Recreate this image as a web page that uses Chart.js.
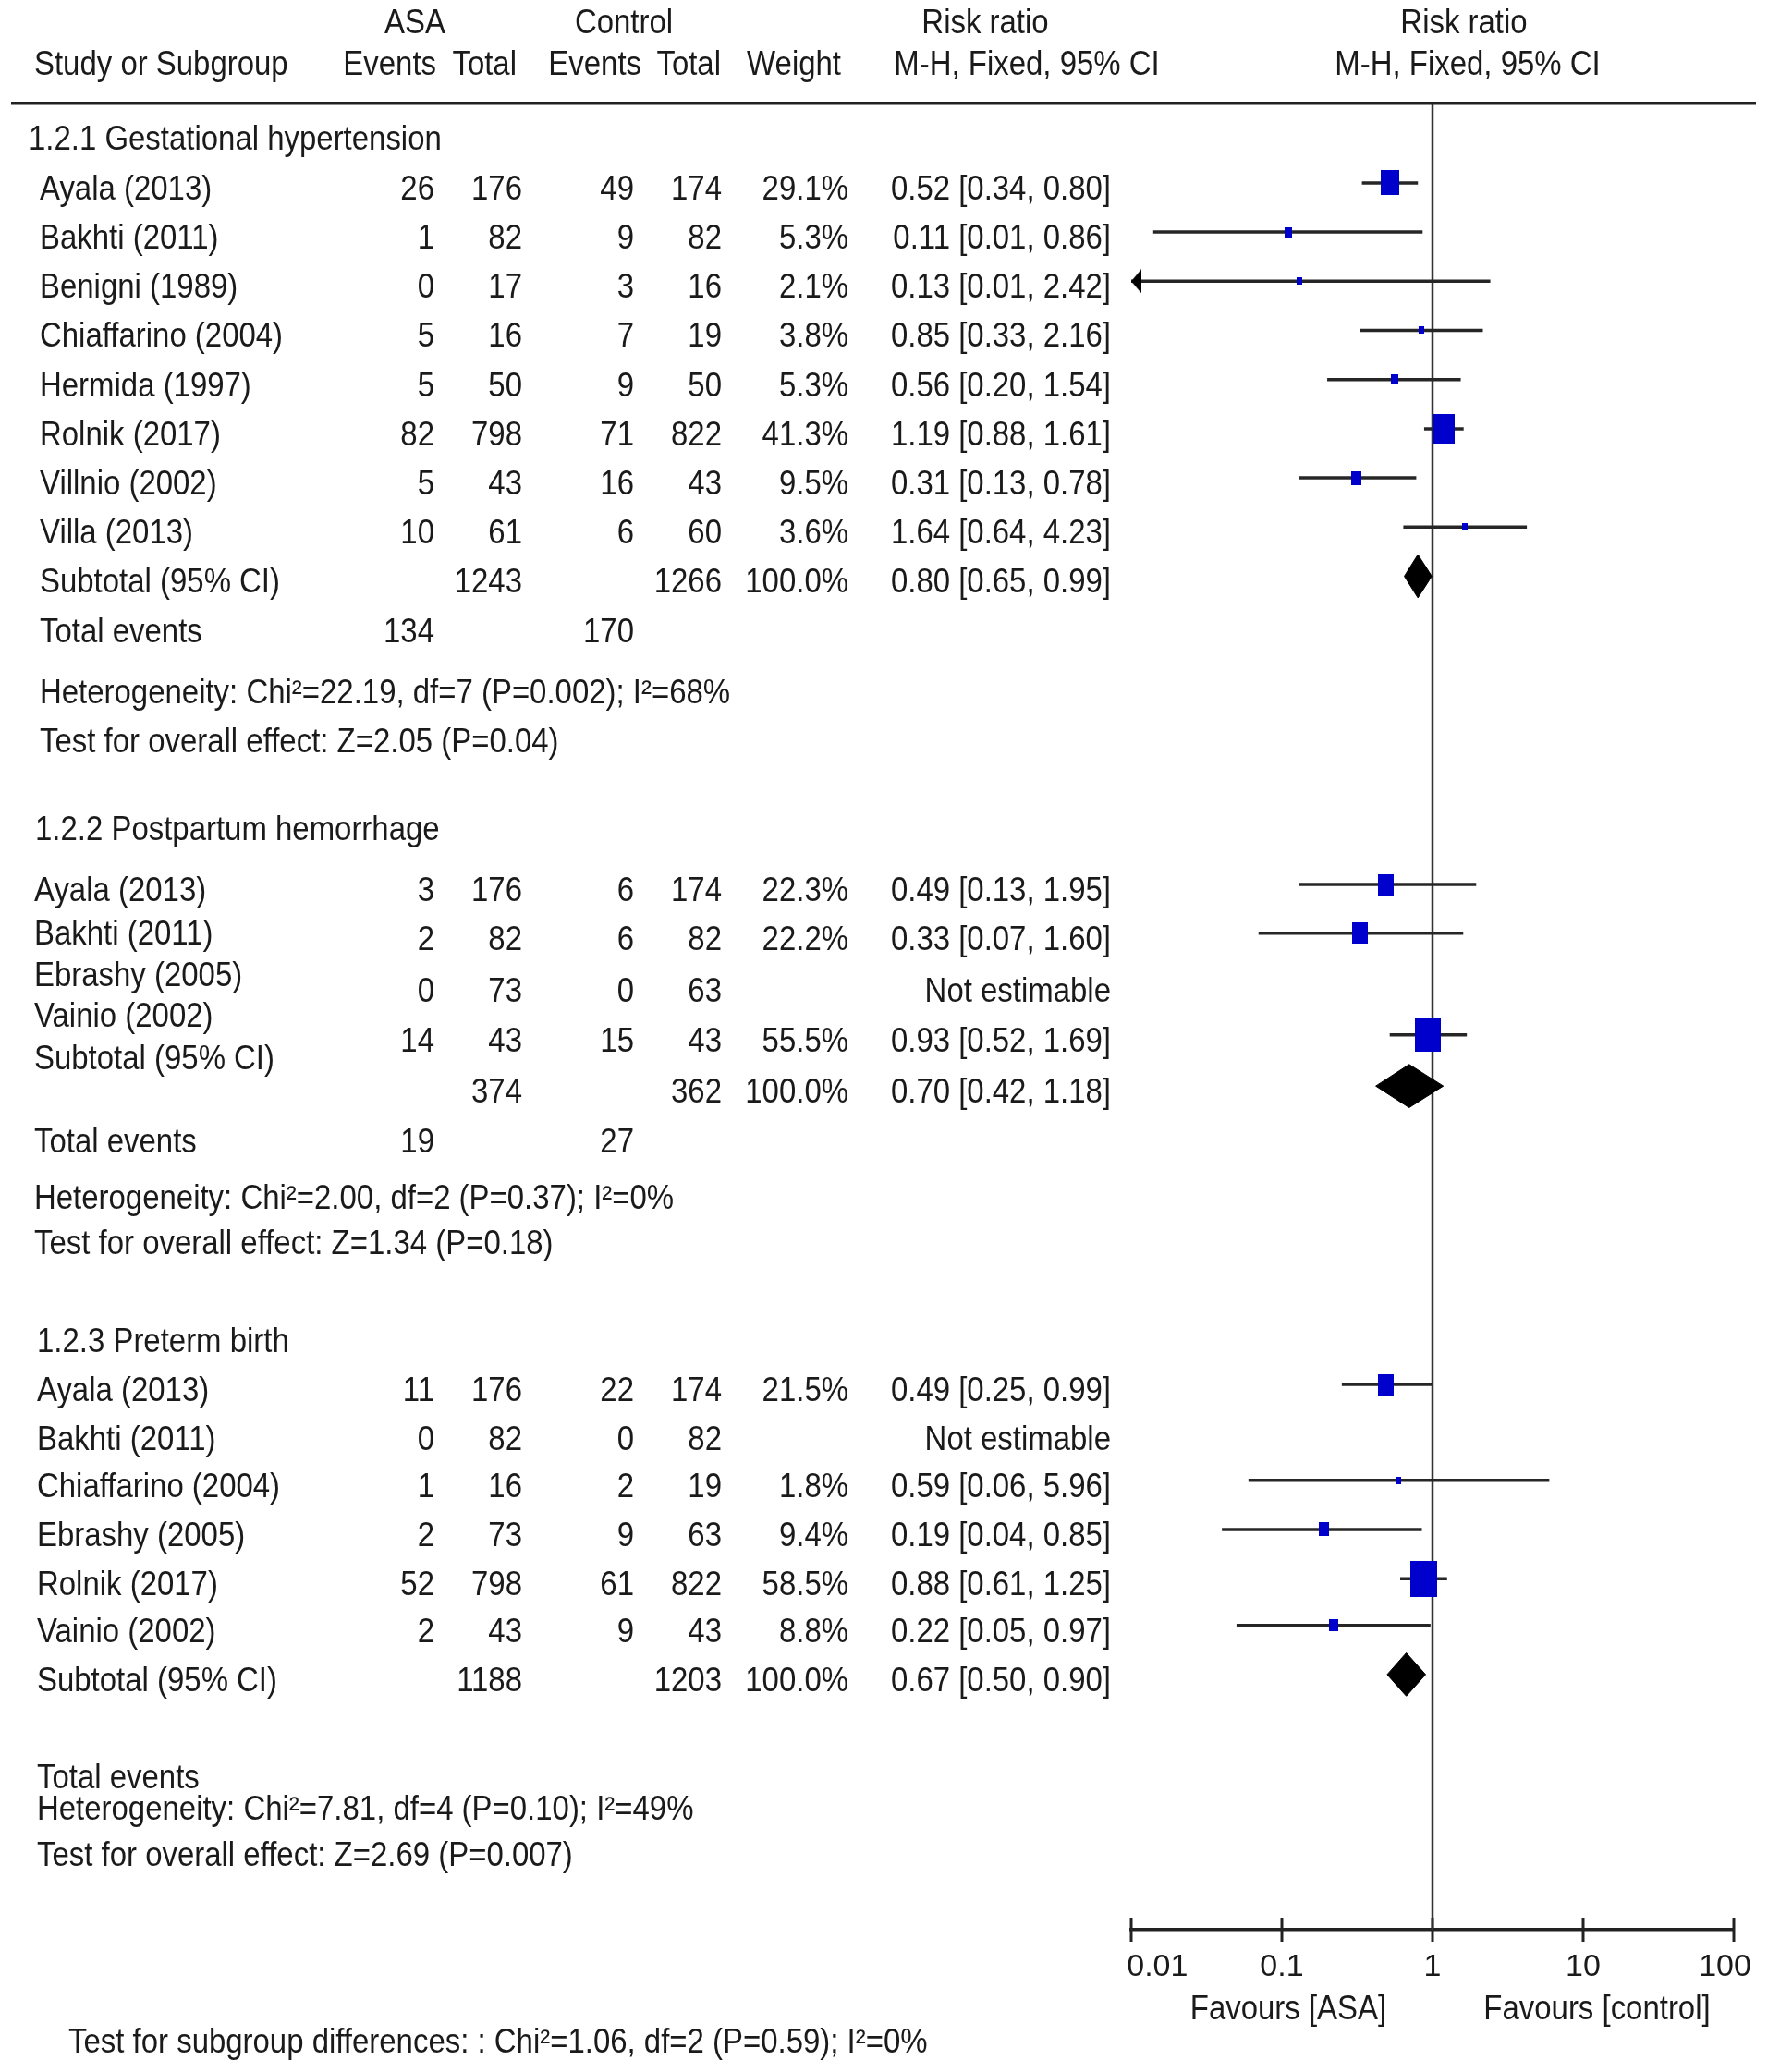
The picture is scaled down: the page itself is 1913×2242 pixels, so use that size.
<!DOCTYPE html>
<html lang="en">
<head>
<meta charset="UTF-8">
<title>Forest plot - ASA vs control</title>
<script src="https://cdn.jsdelivr.net/npm/chart.js@4.4.1/dist/chart.umd.min.js"></script>
<style>
  body { margin: 0; background: #fff; }
  canvas { display: block; }
</style>
</head>
<body>
<canvas id="forest" width="1913" height="2242"></canvas>
<script>
// ---- values ----

// 1.2.1 Gestational hypertension
const ghStudies   = ['Ayala (2013)', 'Bakhti (2011)', 'Benigni (1989)', 'Chiaffarino (2004)', 'Hermida (1997)', 'Rolnik (2017)', 'Villnio (2002)', 'Villa (2013)'];
const ghAsaEvents = [26, 1, 0, 5, 5, 82, 5, 10];
const ghAsaTotal  = [176, 82, 17, 16, 50, 798, 43, 61];
const ghCtlEvents = [49, 9, 3, 7, 9, 71, 16, 6];
const ghCtlTotal  = [174, 82, 16, 19, 50, 822, 43, 60];
const ghWeight    = [29.1, 5.3, 2.1, 3.8, 5.3, 41.3, 9.5, 3.6];
const ghRR        = [0.52, 0.11, 0.13, 0.85, 0.56, 1.19, 0.31, 1.64];
const ghLow       = [0.34, 0.014, 0.01, 0.33, 0.20, 0.88, 0.13, 0.64];
const ghHigh      = [0.80, 0.86, 2.42, 2.16, 1.54, 1.61, 0.78, 4.23];
const ghPooled    = [1243, 1266, 0.80, 0.65, 0.99];   // asa total, control total, rr, low, high
const ghEvents    = [134, 170];
const ghHetero    = 'Heterogeneity: Chi²=22.19, df=7 (P=0.002); I²=68%';
const ghOverall   = 'Test for overall effect: Z=2.05 (P=0.04)';

// 1.2.2 Postpartum hemorrhage
const phStudies   = ['Ayala (2013)', 'Bakhti (2011)', 'Ebrashy (2005)', 'Vainio (2002)'];
const phAsaEvents = [3, 2, 0, 14];
const phAsaTotal  = [176, 82, 73, 43];
const phCtlEvents = [6, 6, 0, 15];
const phCtlTotal  = [174, 82, 63, 43];
const phWeight    = [22.3, 22.2, null, 55.5];
const phRR        = [0.49, 0.33, null, 0.93];
const phLow       = [0.13, 0.07, null, 0.52];
const phHigh      = [1.95, 1.60, null, 1.69];
const phPooled    = [374, 362, 0.70, 0.42, 1.18];
const phEvents    = [19, 27];
const phHetero    = 'Heterogeneity: Chi²=2.00, df=2 (P=0.37); I²=0%';
const phOverall   = 'Test for overall effect: Z=1.34 (P=0.18)';

// 1.2.3 Preterm birth
const pbStudies   = ['Ayala (2013)', 'Bakhti (2011)', 'Chiaffarino (2004)', 'Ebrashy (2005)', 'Rolnik (2017)', 'Vainio (2002)'];
const pbAsaEvents = [11, 0, 1, 2, 52, 2];
const pbAsaTotal  = [176, 82, 16, 73, 798, 43];
const pbCtlEvents = [22, 0, 2, 9, 61, 9];
const pbCtlTotal  = [174, 82, 19, 63, 822, 43];
const pbWeight    = [21.5, null, 1.8, 9.4, 58.5, 8.8];
const pbRR        = [0.49, null, 0.59, 0.19, 0.88, 0.22];
const pbLow       = [0.25, null, 0.06, 0.04, 0.61, 0.05];
const pbHigh      = [0.99, null, 5.96, 0.85, 1.25, 0.97];
const pbPooled    = [1188, 1203, 0.67, 0.50, 0.90];
const pbEvents    = [null, null];
const pbHetero    = 'Heterogeneity: Chi²=7.81, df=4 (P=0.10); I²=49%';
const pbOverall   = 'Test for overall effect: Z=2.69 (P=0.007)';

const subgroupTest = 'Test for subgroup differences: : Chi²=1.06, df=2 (P=0.59); I²=0%';
const xTicks = [0.01, 0.1, 1, 10, 100];

// ---- layout (table rows, in row units) ----
const TOP_ROW = -3.87, AXIS_ROW = 35.38, RULE_ROW = -1.77;
const HEAD_ROWS = [-3.38, -2.53];
const MARK_SHIFT = -0.15, DIAMOND_H = 0.44;
const X_MIN = 0.01, X_MAX = 100;
const BLUE = 'rgb(0,0,205)', INK = '#1a1a1a', LINE = '#262626';
const FONT = '36px "Liberation Sans", Arial, sans-serif';
const COL = { asaE: 470, asaT: 565, ctlE: 686, ctlT: 781, weight: 918, rr: 1202 };

const sections = [
  { title: '1.2.1 Gestational hypertension', tx: 31, nx: 43, head: -1.02,
    names: ghStudies, asaE: ghAsaEvents, asaT: ghAsaTotal, ctlE: ghCtlEvents, ctlT: ghCtlTotal,
    weight: ghWeight, rr: ghRR, low: ghLow, high: ghHigh, pooled: ghPooled, events: ghEvents,
    hetero: ghHetero, overall: ghOverall,
    nameRows: [0, 1, 2, 3, 4, 5, 6, 7], valueRows: [0, 1, 2, 3, 4, 5, 6, 7],
    subName: 8, subRow: 8, totRow: 9, hetRow: 10.25, ovRow: 11.24 },
  { title: '1.2.2 Postpartum hemorrhage', tx: 38, nx: 37, head: 13.03,
    names: phStudies, asaE: phAsaEvents, asaT: phAsaTotal, ctlE: phCtlEvents, ctlT: phCtlTotal,
    weight: phWeight, rr: phRR, low: phLow, high: phHigh, pooled: phPooled, events: phEvents,
    hetero: phHetero, overall: phOverall,
    nameRows: [14.27, 15.15, 16.0, 16.83], valueRows: [14.27, 15.26, 16.32, 17.33],
    subName: 17.69, subRow: 18.37, totRow: 19.38, hetRow: 20.53, ovRow: 21.45 },
  { title: '1.2.3 Preterm birth', tx: 40, nx: 40, head: 23.44,
    names: pbStudies, asaE: pbAsaEvents, asaT: pbAsaTotal, ctlE: pbCtlEvents, ctlT: pbCtlTotal,
    weight: pbWeight, rr: pbRR, low: pbLow, high: pbHigh, pooled: pbPooled, events: pbEvents,
    hetero: pbHetero, overall: pbOverall,
    nameRows: [24.44, 25.43, 26.39, 27.39, 28.39, 29.34], valueRows: [24.44, 25.43, 26.39, 27.39, 28.39, 29.34],
    subName: 30.34, subRow: 30.34, totRow: 32.31, hetRow: 32.95, ovRow: 33.89 }
];

// blue weight box, drawn as a point image
function boxImage(w) {
  const bw = Math.max(6, Math.round(3.1 * Math.pow(w, 0.55)));
  const bh = Math.round(bw * 1.33);
  const c = document.createElement('canvas');
  c.width = bw; c.height = bh;
  const g = c.getContext('2d');
  g.fillStyle = BLUE;
  g.fillRect(0, 0, bw, bh);
  return c;
}

// left arrow, tip sits on the point
function arrowImage() {
  const c = document.createElement('canvas');
  c.width = 22; c.height = 26;
  const g = c.getContext('2d');
  g.fillStyle = '#000';
  g.beginPath();
  g.moveTo(11, 13); g.lineTo(22, 0); g.lineTo(22, 26); g.closePath();
  g.fill();
  return c;
}

const datasets = [];
const boxes = [], boxStyles = [], arrows = [];

sections.forEach(s => {
  s.rr.forEach((v, i) => {
    if (v == null) return;
    const r = s.valueRows[i] + MARK_SHIFT;
    datasets.push({
      data: [{ x: Math.max(s.low[i], X_MIN), y: r }, { x: s.high[i], y: r }],
      showLine: true, borderColor: LINE, borderWidth: 3.5, pointRadius: 0, order: 3, clip: false
    });
    boxes.push({ x: v, y: r });
    boxStyles.push(boxImage(s.weight[i]));
    if (s.low[i] <= X_MIN) arrows.push({ x: X_MIN, y: r });
  });
  const p = s.pooled, r = s.subRow + MARK_SHIFT;
  datasets.push({
    data: [{ x: p[3], y: r }, { x: p[2], y: r - DIAMOND_H }, { x: p[4], y: r }, { x: p[2], y: r + DIAMOND_H }, { x: p[3], y: r }],
    showLine: true, fill: 'shape', backgroundColor: '#000', borderColor: '#000', borderWidth: 1,
    pointRadius: 0, tension: 0, order: 2, clip: false
  });
});

datasets.push({
  data: boxes, pointStyle: boxStyles, pointRadius: 5, order: 1, clip: false
});
datasets.push({
  data: arrows, pointStyle: arrowImage(), pointRadius: 5, order: 1, clip: false
});
// line of no effect
datasets.push({
  data: [{ x: 1, y: RULE_ROW }, { x: 1, y: AXIS_ROW }],
  showLine: true, borderColor: '#333', borderWidth: 2.5, pointRadius: 0, order: 4, clip: false
});
// tick marks crossing the axis
datasets.push({
  data: xTicks.map(v => ({ x: v, y: AXIS_ROW })),
  pointStyle: 'line', rotation: 90, pointRadius: 13, borderWidth: 3, borderColor: '#222', order: 5, clip: false
});

function txt(ctx, s, x, y, align) {
  ctx.save();
  ctx.translate(x, y);
  ctx.scale(0.915, 1);
  ctx.textAlign = align || 'left';
  ctx.textBaseline = 'middle';
  ctx.fillText(s, 0, 0);
  ctx.restore();
}

// end labels sit inside the axis like in the original
function tickLabel(v) {
  if (v === X_MIN) return '      ' + v;
  if (v === X_MAX) return v + '  ';
  return String(v);
}

const tablePlugin = {
  id: 'table',
  afterDraw(chart) {
    const ctx = chart.ctx;
    const py = r => chart.scales.y.getPixelForValue(r);
    ctx.save();
    ctx.fillStyle = INK;
    ctx.font = FONT;

    txt(ctx, 'ASA', 449, py(HEAD_ROWS[0]), 'center');
    txt(ctx, 'Control', 675, py(HEAD_ROWS[0]), 'center');
    txt(ctx, 'Risk ratio', 1066, py(HEAD_ROWS[0]), 'center');
    txt(ctx, 'Risk ratio', 1584, py(HEAD_ROWS[0]), 'center');
    txt(ctx, 'Study or Subgroup', 37, py(HEAD_ROWS[1]));
    txt(ctx, 'Events', 472, py(HEAD_ROWS[1]), 'right');
    txt(ctx, 'Total', 559, py(HEAD_ROWS[1]), 'right');
    txt(ctx, 'Events', 694, py(HEAD_ROWS[1]), 'right');
    txt(ctx, 'Total', 780, py(HEAD_ROWS[1]), 'right');
    txt(ctx, 'Weight', 910, py(HEAD_ROWS[1]), 'right');
    txt(ctx, 'M-H, Fixed, 95% CI', 1111, py(HEAD_ROWS[1]), 'center');
    txt(ctx, 'M-H, Fixed, 95% CI', 1588, py(HEAD_ROWS[1]), 'center');

    ctx.strokeStyle = '#222';
    ctx.lineWidth = 3.5;
    ctx.beginPath();
    ctx.moveTo(12, py(RULE_ROW));
    ctx.lineTo(1900, py(RULE_ROW));
    ctx.stroke();

    sections.forEach(s => {
      txt(ctx, s.title, s.tx, py(s.head));
      s.names.forEach((n, i) => {
        txt(ctx, n, s.nx, py(s.nameRows[i]));
        const y = py(s.valueRows[i]);
        txt(ctx, String(s.asaE[i]), COL.asaE, y, 'right');
        txt(ctx, String(s.asaT[i]), COL.asaT, y, 'right');
        txt(ctx, String(s.ctlE[i]), COL.ctlE, y, 'right');
        txt(ctx, String(s.ctlT[i]), COL.ctlT, y, 'right');
        if (s.weight[i] != null) txt(ctx, s.weight[i].toFixed(1) + '%', COL.weight, y, 'right');
        const ci = s.rr[i] == null ? 'Not estimable'
          : s.rr[i].toFixed(2) + ' [' + s.low[i].toFixed(2) + ', ' + s.high[i].toFixed(2) + ']';
        txt(ctx, ci, COL.rr, y, 'right');
      });
      const p = s.pooled, ys = py(s.subRow);
      txt(ctx, 'Subtotal (95% CI)', s.nx, py(s.subName));
      txt(ctx, String(p[0]), COL.asaT, ys, 'right');
      txt(ctx, String(p[1]), COL.ctlT, ys, 'right');
      txt(ctx, '100.0%', COL.weight, ys, 'right');
      txt(ctx, p[2].toFixed(2) + ' [' + p[3].toFixed(2) + ', ' + p[4].toFixed(2) + ']', COL.rr, ys, 'right');
      txt(ctx, 'Total events', s.nx, py(s.totRow));
      if (s.events[0] != null) txt(ctx, String(s.events[0]), COL.asaE, py(s.totRow), 'right');
      if (s.events[1] != null) txt(ctx, String(s.events[1]), COL.ctlE, py(s.totRow), 'right');
      txt(ctx, s.hetero, s.nx, py(s.hetRow));
      txt(ctx, s.overall, s.nx, py(s.ovRow));
    });

    txt(ctx, 'Favours [ASA]', 1394, py(37.01), 'center');
    txt(ctx, 'Favours [control]', 1728, py(37.01), 'center');
    txt(ctx, subgroupTest, 74, py(37.69));
    ctx.restore();
  }
};

new Chart(document.getElementById('forest'), {
  type: 'scatter',
  data: { datasets },
  options: {
    responsive: false,
    animation: false,
    devicePixelRatio: 1,
    events: [],
    layout: { autoPadding: false, padding: { left: 1224, right: 37, top: 0, bottom: 0 } },
    plugins: { legend: { display: false }, tooltip: { enabled: false } },
    scales: {
      x: {
        type: 'logarithmic', min: X_MIN, max: X_MAX, position: 'bottom',
        afterBuildTicks: ax => { ax.ticks = xTicks.map(v => ({ value: v })); },
        afterFit: ax => { ax.height = 154; ax.paddingLeft = 0; ax.paddingRight = 0; },
        grid: { display: false, drawTicks: false },
        border: { display: true, color: '#222', width: 3.5 },
        ticks: {
          callback: v => tickLabel(v), autoSkip: false, maxRotation: 0, padding: 20,
          color: INK, font: { family: '"Liberation Sans", Arial, sans-serif', size: 34 }
        }
      },
      y: { type: 'linear', display: false, reverse: true, min: TOP_ROW, max: AXIS_ROW }
    }
  },
  plugins: [tablePlugin]
});
</script>
</body>
</html>
